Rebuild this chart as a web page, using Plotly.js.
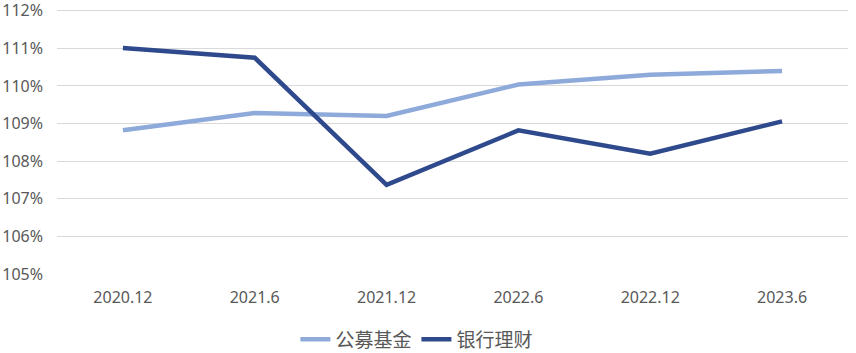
<!DOCTYPE html>
<html><head><meta charset="utf-8">
<script src="https://cdn.plot.ly/plotly-3.0.1.min.js"></script>
<style>html,body{margin:0;padding:0;background:#fff}#c{width:856px;height:353px}</style>
</head><body><div id="c"></div>
<script>
const categories = ["2020.12","2021.6","2021.12","2022.6","2022.12","2023.6"];
const fundName = "公募基金";
const bankName = "银行理财";
const fundValues = [1.0882, 1.0928, 1.0920, 1.1004, 1.1030, 1.1040];
const bankValues = [1.1101, 1.1075, 1.0737, 1.0882, 1.0820, 1.0906];
const yTicks = [1.05,1.06,1.07,1.08,1.09,1.10,1.11,1.12];

const font = {family: "'Noto Sans', 'Noto Sans CJK SC', sans-serif", size: 16, color: "#595959"};
const traces = [
  {x: categories, y: fundValues, name: fundName, type: "scatter", mode: "lines",
   line: {color: "#8eaadb", width: 4.5}},
  {x: categories, y: bankValues, name: bankName, type: "scatter", mode: "lines",
   line: {color: "#2f4a8c", width: 4.5}}
];
const layout = {
  width: 856, height: 353,
  margin: {l: 57, r: 8, t: 7, b: 79, autoexpand: false},
  paper_bgcolor: "#fff", plot_bgcolor: "#fff",
  font: font,
  showlegend: true,
  legend: {orientation: "h", x: 0.455, xanchor: "center", y: -0.245, yanchor: "middle",
           font: {family: "'Noto Sans CJK SC', sans-serif", size: 19, color: "#595959"},
           itemwidth: 30, traceorder: "normal", tracegroupgap: 0},
  xaxis: {type: "category", showgrid: false, zeroline: false, showline: false,
          ticks: "", tickfont: font, range: [-0.5, 5.5], automargin: false, ticklabelstandoff: 12},
  yaxis: {range: [1.05, 1.121], tickvals: yTicks, tickformat: ".0%", gridcolor: "#d9d9d9",
          gridwidth: 1, zeroline: false, showline: false, ticks: "", tickfont: font,
          ticklabelstandoff: 13, automargin: false, ticklabeloverflow: "allow"}
};
Plotly.newPlot("c", traces, layout, {displayModeBar: false, staticPlot: true});
</script></body></html>
